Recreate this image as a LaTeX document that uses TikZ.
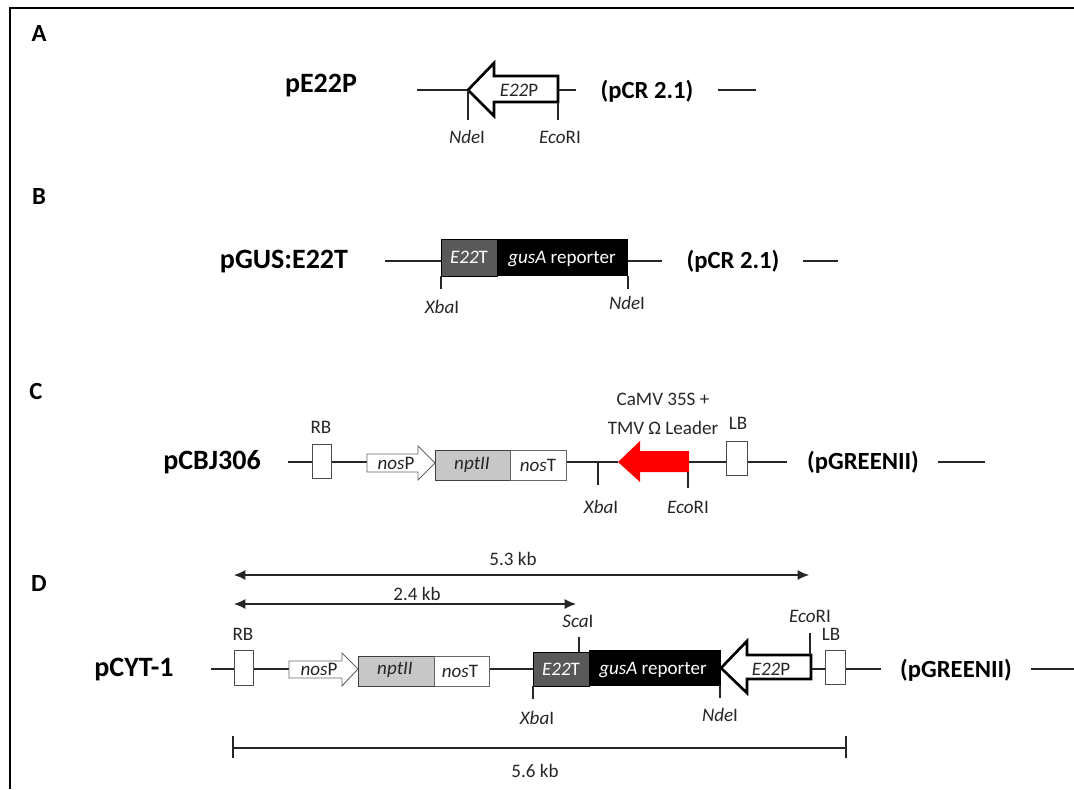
\documentclass[tikz,border=0pt]{standalone}
\usepackage{fontspec}
\usetikzlibrary{arrows.meta}
\setmainfont{Carlito}
\begin{document}
\begin{tikzpicture}[x=0.75pt,y=-0.75pt,
  lab/.style={inner sep=0pt,font=\fontsize{14.3}{17}\selectfont,text=black!85},
  wlab/.style={inner sep=0pt,font=\fontsize{14.3}{17}\selectfont,text=white},
  ttl/.style={inner sep=0pt,font=\fontsize{21}{25}\bfseries\selectfont},
  vec/.style={inner sep=0pt,font=\fontsize{18.5}{22}\bfseries\selectfont},
  pan/.style={inner sep=0pt,font=\fontsize{18.5}{22}\bfseries\selectfont},
  wire/.style={draw=black!85,line width=0.9pt},
  dimtip/.style={{Latex[length=8.5pt,width=7.5pt]}-{Latex[length=8.5pt,width=7.5pt]}},
  box/.style={draw=black!70,line width=0.7pt,fill=white,inner sep=0pt}]
\useasboundingbox (0,0) rectangle (1074,789);
% frame
\coordinate (f1) at (10,789); \coordinate (f2) at (10,8); \coordinate (f3) at (1074,8);
\draw[black,line width=1.3pt] (f1) -- (f2) -- (f3);
% panel letters
\node[pan] (pA) at (39,34) {A};
\node[pan] (pB) at (39,196) {B};
\node[pan] (pC) at (36,391) {C};
\node[pan] (pD) at (39,583) {D};
% ---------- A
\node[ttl] (tA) at (321,86) {pE22P};
\coordinate (a0) at (417,90); \coordinate (a1) at (468,90);
\coordinate (a2) at (558,90); \coordinate (a3) at (576,90);
\node[vec] (vA) at (647,91) {(pCR 2.1)};
\coordinate (a4) at (718,90); \coordinate (a5) at (756,90);
\draw[wire] (a0)--(a1) (a2)--(a3) (a4)--(a5);
\draw[black,line width=2pt,fill=white,line join=miter] (a1)--(494,63)--(494,76)--(558,76)--(558,102)--(494,102)--(494,116)--cycle;
\node[lab] (lA) at (519,90) {\textit{E22}P};
\coordinate (a6) at (468,120); \coordinate (a7) at (558,102); \coordinate (a8) at (558,120);
\draw[wire] (a1)--(a6) (a7)--(a8);
\node[lab] (nA) at (467,137) {\textit{Nde}I};
\node[lab] (eA) at (560,137) {\textit{Eco}RI};
% ---------- B
\node[ttl] (tB) at (284,262) {pGUS:E22T};
\coordinate (b0) at (385,261); \coordinate (b1) at (441,261);
\coordinate (b2) at (628,261); \coordinate (b3) at (662,261);
\draw[wire] (b0)--(b1) (b2)--(b3);
\node[draw=black,line width=0.6pt,fill=black!65,minimum width=42pt,minimum height=27.75pt,wlab] (e22tB) at (469,257.5) {\raisebox{-2pt}{\textit{E22}T}};
\fill[black] (497,239) rectangle (628,276);
\node[wlab] (gB) at (562,259) {\textit{gusA} reporter};
\coordinate (b4) at (441,276); \coordinate (b5) at (441,289);
\coordinate (b6) at (628,276); \coordinate (b7) at (628,289);
\draw[wire] (b4)--(b5) (b6)--(b7);
\node[lab] (xB) at (442,307) {\textit{Xba}I};
\node[lab] (nB) at (627,303) {\textit{Nde}I};
\node[vec] (vB) at (733,261) {(pCR 2.1)};
\coordinate (b8) at (803,261); \coordinate (b9) at (838,261);
\draw[wire] (b8)--(b9);
% ---------- C
\node[ttl] (tC) at (212,462) {pCBJ306};
\coordinate (c0) at (288,462); \coordinate (c1) at (367,462);
\coordinate (c2) at (566,462); \coordinate (c3) at (618,462);
\coordinate (c4) at (689,462); \coordinate (c5) at (787,462);
\draw[wire] (c0)--(c1) (c2)--(c3) (c4)--(c5);
\draw[box] (312,444) rectangle (331,478);
\node[lab] (rbC) at (321,427) {RB};
\draw[draw=black!60,line width=0.7pt,fill=white] (367,454)--(418,454)--(418,446)--(435,463)--(418,480)--(418,472)--(367,472)--cycle;
\node[lab] (npC) at (396,463) {\textit{nos}P};
\draw[draw=black!75,line width=0.7pt,fill=black!22] (435,450) rectangle (510,480);
\node[lab] (nptC) at (472,465) {\textit{nptII}};
\draw[draw=black!60,line width=0.7pt,fill=white] (510,450) rectangle (566,480);
\node[lab] (ntC) at (538,465) {\textit{nos}T};
\coordinate (c6) at (598,462); \coordinate (c7) at (598,485);
\draw[wire] (c6)--(c7);
\fill[red] (c3)--(640,441)--(640,451)--(689,451)--(689,472)--(640,472)--(640,482)--cycle;
\coordinate (c8) at (688,472); \coordinate (c9) at (688,488);
\draw[wire] (c8)--(c9);
\draw[box] (726,441) rectangle (747,475);
\node[lab] (lbC) at (738,423) {LB};
\node[lab] (caC) at (663,399) {CaMV 35S +};
\node[lab] (tmC) at (663,428) {TMV Ω Leader};
\node[lab] (xC) at (601,507) {\textit{Xba}I};
\node[lab] (eC) at (688,507) {\textit{Eco}RI};
\node[vec] (vC) at (863,462) {(pGREENII)};
\coordinate (c10) at (938,462); \coordinate (c11) at (985,462);
\draw[wire] (c10)--(c11);
% ---------- D
\node[ttl] (tD) at (134,670) {pCYT-1};
\coordinate (d0) at (211,669); \coordinate (d1) at (289,669);
\coordinate (d2) at (489,669); \coordinate (d3) at (533,669);
\coordinate (d4) at (811,669); \coordinate (d5) at (881,669);
\draw[wire] (d0)--(d1) (d2)--(d3) (d4)--(d5);
\draw[box] (234,650) rectangle (253,685);
\node[lab] (rbD) at (243,634) {RB};
\draw[draw=black!60,line width=0.7pt,fill=white] (289,661)--(342,661)--(342,653)--(358,669)--(342,686)--(342,678)--(289,678)--cycle;
\node[lab] (npD) at (319,669) {\textit{nos}P};
\draw[draw=black!75,line width=0.7pt,fill=black!22] (358,656) rectangle (434,686);
\node[lab] (nptD) at (395,670) {\textit{nptII}};
\draw[draw=black!60,line width=0.7pt,fill=white] (434,656) rectangle (489,686);
\node[lab] (ntD) at (460,671) {\textit{nos}T};
\node[draw=black,line width=0.6pt,fill=black!65,minimum width=42pt,minimum height=25.5pt,wlab] (e22tD) at (561,669) {\raisebox{-1.5pt}{\textit{E22}T}};
\fill[black] (589,650) rectangle (721,686);
\node[wlab] (gD) at (653,670) {\textit{gusA} reporter};
\coordinate (d6) at (721,668);
\draw[black,line width=2pt,fill=white,line join=miter] (d6)--(747,641)--(747,655)--(811,655)--(811,679)--(747,679)--(747,693)--cycle;
\node[lab] (e22pD) at (771,669) {\textit{E22}P};
\draw[box] (825,650) rectangle (845,684);
\node[lab] (lbD) at (831,634) {LB};
\coordinate (d7) at (579,637); \coordinate (d8) at (579,652);
\coordinate (d9) at (533,686); \coordinate (d10) at (533,699);
\coordinate (d11) at (720,686); \coordinate (d12) at (720,698);
\coordinate (d13) at (810,633); \coordinate (d14) at (810,655);
\draw[wire] (d7)--(d8) (d9)--(d10) (d11)--(d12) (d13)--(d14);
\node[lab] (sD) at (578,621) {\textit{Sca}I};
\node[lab] (xD) at (537,718) {\textit{Xba}I};
\node[lab] (nD) at (720,715) {\textit{Nde}I};
\node[lab] (eD) at (810,616) {\textit{Eco}RI};
\node[vec] (vD) at (956,670) {(pGREENII)};
\coordinate (d15) at (1031,669); \coordinate (d16) at (1074,669);
\draw[wire] (d15)--(d16);
% dimensions
\coordinate (m1) at (234,575); \coordinate (m2) at (809,575);
\coordinate (m3) at (234,604); \coordinate (m4) at (576,604);
\draw[wire,dimtip] (m1)--(m2);
\draw[wire,dimtip] (m3)--(m4);
\node[lab] (m53) at (513,559) {5.3 kb};
\node[lab] (m24) at (417,594) {2.4 kb};
\coordinate (m5) at (233,748); \coordinate (m6) at (846,748);
\coordinate (m7) at (233,736); \coordinate (m8) at (233,758);
\coordinate (m9) at (846,736); \coordinate (m10) at (846,758);
\draw[wire] (m5)--(m6) (m7)--(m8) (m9)--(m10);
\node[lab] (m56) at (535,771) {5.6 kb};
\end{tikzpicture}
\end{document}
